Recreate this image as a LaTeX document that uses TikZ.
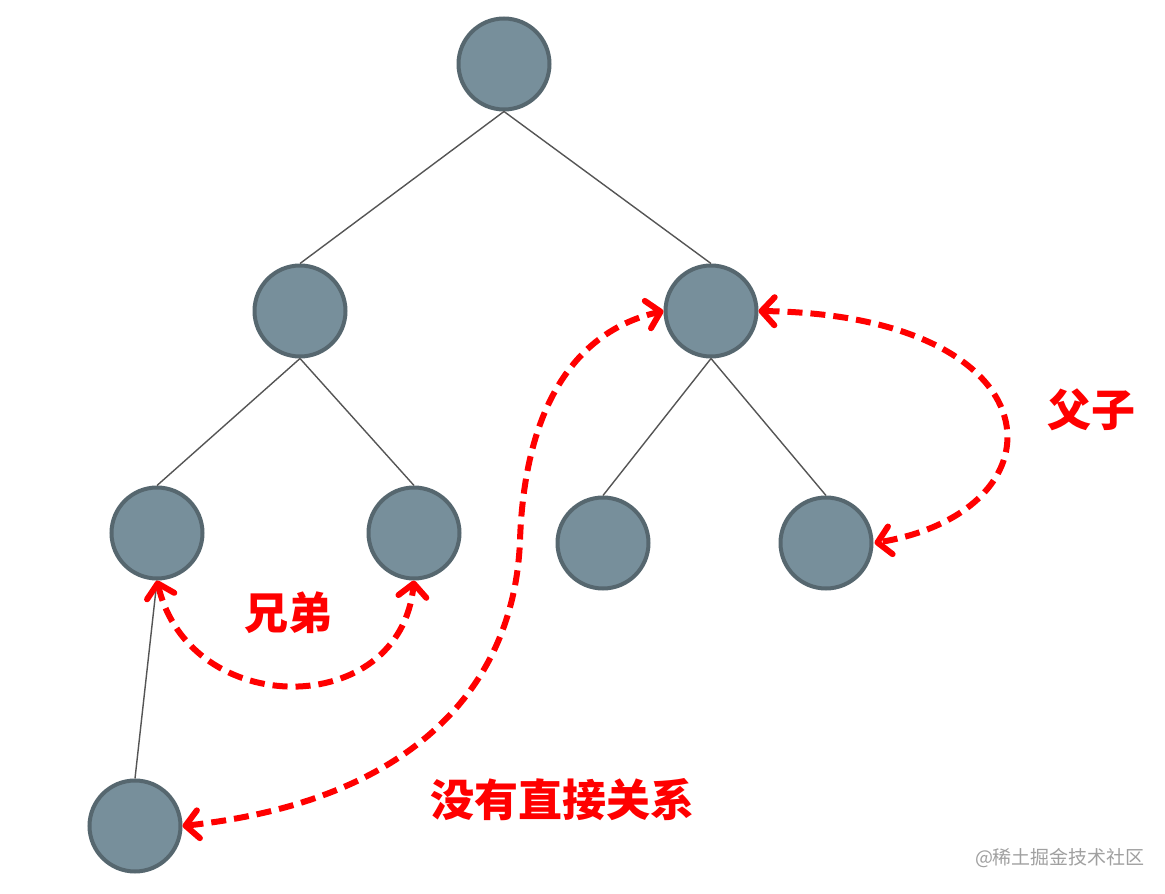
\documentclass[tikz,border=0pt]{standalone}
\usepackage{fontspec}
\newfontfamily\cjk{Noto Sans CJK SC}
\usetikzlibrary{arrows.meta}
\definecolor{nodefill}{HTML}{778F9B}
\definecolor{nodeline}{HTML}{56676F}
\definecolor{edgecol}{HTML}{555555}
\definecolor{wmgrey}{HTML}{A0A0A0}
\begin{document}
\begin{tikzpicture}[x=1pt,y=-1pt,
  treenode/.style={circle,draw=nodeline,fill=nodefill,line width=4pt,minimum size=91pt,inner sep=0pt},
  edge/.style={draw=edgecol,line width=1.4pt},
  rel/.style={draw=red,line width=6pt,dash pattern=on 15pt off 8pt,
    {Straight Barb[length=13pt,width=28pt,line cap=round,line join=round]}-{Straight Barb[length=13pt,width=28pt,line cap=round,line join=round]}},
  lab/.style={text=red,font=\cjk\bfseries\fontsize{44}{52}\selectfont,inner sep=0pt}
]
\useasboundingbox (0,0) rectangle (1165,894);
\fill[white] (0,0) rectangle (1165,894);
% nodes
\node[treenode] (root) at (504,64) {};
\node[treenode] (L) at (300,311) {};
\node[treenode] (R) at (711,311) {};
\node[treenode] (LL) at (157,533) {};
\node[treenode] (LR) at (414,533) {};
\node[treenode] (RL) at (603,543) {};
\node[treenode] (RR) at (826,543) {};
\node[treenode] (LLL) at (135,826) {};
% edges (parent bottom to child top)
\draw[edge] (root.south) -- (L.north);
\draw[edge] (root.south) -- (R.north);
\draw[edge] (L.south) -- (LL.north);
\draw[edge] (L.south) -- (LR.north);
\draw[edge] (R.south) -- (RL.north);
\draw[edge] (R.south) -- (RR.north);
\draw[edge] (LL.south) -- (LLL.north);
% relations
\draw[rel] (R.east) .. controls (1060,315) and (1070,510) .. ([xshift=1pt]RR.east);
\draw[rel] (LL.south) .. controls (190,720) and (400,720) .. (LR.south);
\coordinate (mid) at (520,540);
\draw[rel] (LLL.east) .. controls (420,800) and (515,680) .. (mid)
  .. controls (525,400) and (580,330) .. (R.west);
% labels
\node[lab] (fz) at (1091,410) {父子};
\node[lab] (xd) at (288,613) {兄弟};
\node[lab] (wg) at (562,800) {没有直接关系};
\node[text=wmgrey,font=\cjk\fontsize{19}{22}\selectfont,inner sep=0pt] (wm) at (1060,858) {@稀土掘金技术社区};
\end{tikzpicture}
\end{document}
